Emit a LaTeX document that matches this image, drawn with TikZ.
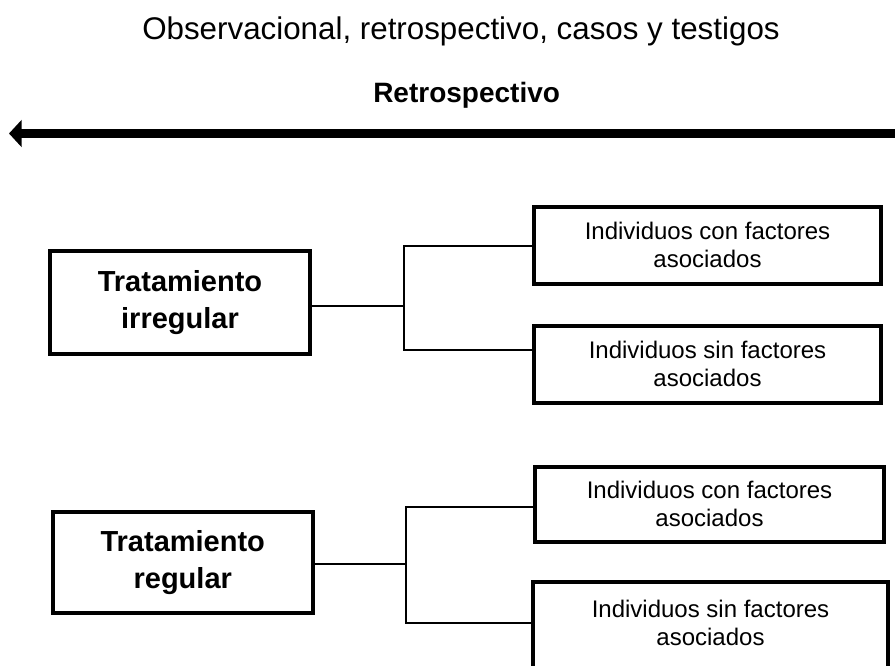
\documentclass[tikz,border=0pt]{standalone}
\usepackage{fontspec}
\setmainfont{Liberation Sans}
\usetikzlibrary{arrows.meta}
\begin{document}
\begin{tikzpicture}[x=0.75pt,y=-0.75pt,
  bigbox/.style={draw, line width=3pt, minimum width=195pt, minimum height=77.25pt, align=center,
    font=\fontsize{21.75pt}{27.75pt}\selectfont\bfseries, inner sep=0pt},
  smallbox/.style={draw, line width=3pt, minimum width=260.25pt, minimum height=57.75pt, align=center,
    font=\fontsize{18pt}{21pt}\selectfont, inner sep=0pt},
  conn/.style={line width=1.5pt},
  bigarrow/.style={line width=6.25pt, -{Triangle[length=9.5pt,width=20pt]}}]
\useasboundingbox (0,0) rectangle (895,665);

% title texts
\node[anchor=base west, font=\fontsize{23.5pt}{28pt}\selectfont, inner sep=0pt] (title) at (142,39)
  {Observacional, retrospectivo, casos y testigos};
\node[anchor=base west, font=\fontsize{21pt}{25pt}\selectfont\bfseries, inner sep=0pt] (retro) at (373,102)
  {Retrospectivo};

% time arrow
\coordinate (aR) at (905,133.5);
\coordinate (aL) at (9,133.5);
\draw[bigarrow] (aR) -- (aL);

% main boxes
\node[bigbox] (A) at (180,302.5) {Tratamiento\\irregular};
\node[bigbox, minimum height=75.75pt] (B) at (182.75,562.5) {Tratamiento\\regular};

% outcome boxes
\node[smallbox] (S1) at (707.5,245) {Individuos con factores\\asociados};
\node[smallbox] (S2) at (707.5,364) {Individuos sin factores\\asociados};
\node[smallbox, minimum width=261.75pt, minimum height=56.25pt] (S3) at (709.5,504) {Individuos con factores\\asociados};
\node[smallbox, draw=none, minimum width=263.25pt] (S4) at (710.5,622.5) {Individuos sin factores\\asociados};
\draw[line width=3pt] ([yshift=-40pt]S4.south west) -- (S4.north west) -- (S4.north east) -- ([yshift=-40pt]S4.south east);

% connectors, first group
\coordinate (jA0) at (404.3,306);
\coordinate (jA1) at (404.3,246);
\coordinate (jA2) at (404.3,350);
\draw[conn] (A.east |- jA0) -- (jA0);
\draw[conn] (S1.west |- jA1) -- (jA1) -- (jA2) -- (S2.west |- jA2);

% connectors, second group
\coordinate (jB0) at (405.7,564);
\coordinate (jB1) at (405.7,506.7);
\coordinate (jB2) at (405.7,622.5);
\draw[conn] (B.east |- jB0) -- (jB0);
\draw[conn] (S3.west |- jB1) -- (jB1) -- (jB2) -- (S4.west |- jB2);
\end{tikzpicture}
\end{document}
